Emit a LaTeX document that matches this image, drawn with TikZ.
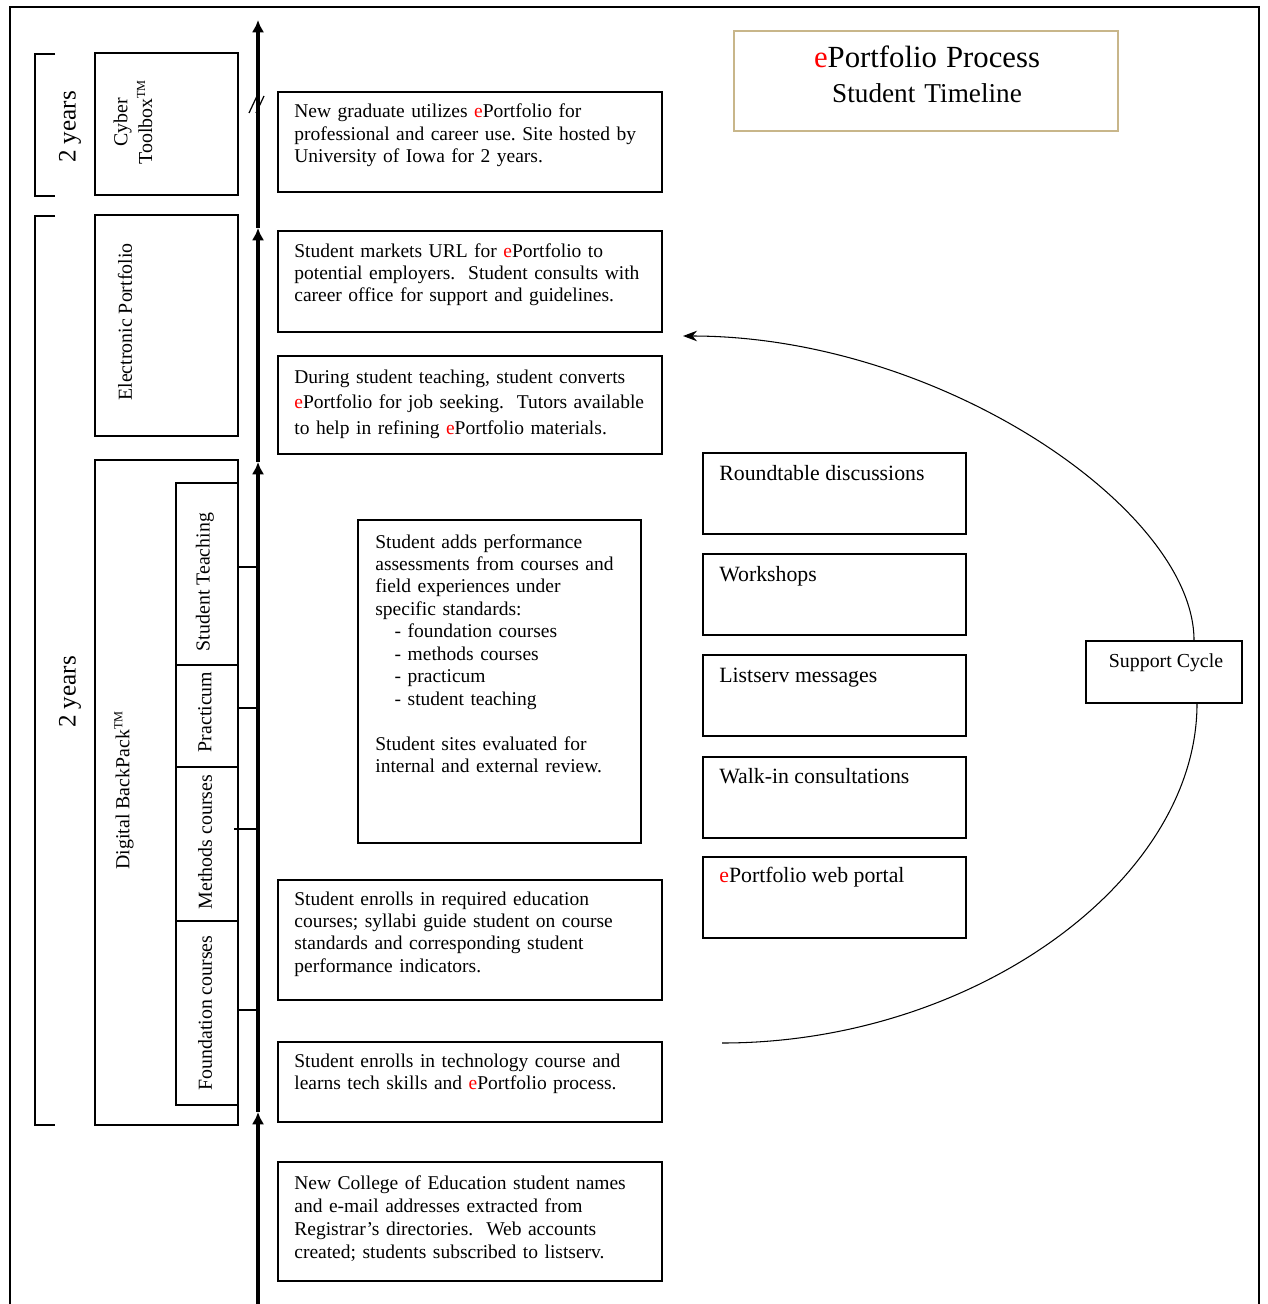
\documentclass[tikz,border=0pt]{standalone}
\usepackage{fontspec}
\setmainfont{Liberation Serif}
\usetikzlibrary{fit,arrows.meta,calc}
\definecolor{titletan}{HTML}{C8B68A}
\newcommand{\redE}{\textcolor{red}{e}}
\begin{document}
\begin{tikzpicture}[x=0.02cm,y=-0.02cm,
  pbox/.style={draw, line width=0.8pt, inner sep=0pt},
  txt/.style={anchor=base west, inner sep=0pt, text width=8cm, align=left,
    font=\fontsize{11.1}{12.8}\selectfont\frenchspacing},
  rtxt/.style={rotate=90, inner sep=0pt, align=center,
    font=\fontsize{11.3}{14}\selectfont},
  stxt/.style={anchor=base west, inner sep=0pt, font=\fontsize{12.4}{14}\selectfont},
  timeline/.style={line width=2.5pt, -{Latex[length=7pt,width=7pt]}},
  tickline/.style={line width=0.8pt},
  cycline/.style={line width=0.6pt},
  bracket/.style={line width=0.8pt}]
\useasboundingbox (0,0) rectangle (1267,1304);
% outer frame
\draw[line width=1.1pt] (10,1304) -- (10,7) -- (1259,7) -- (1259,1304);

% brackets and "2 years"
\draw[bracket] (55,54) -- (35,54) -- (35,196) -- (55,196);
\draw[bracket] (55,216) -- (35,216) -- (35,1125) -- (55,1125);
\node[rtxt, font=\fontsize{14.3}{16}\selectfont] (y1) at (70,127) {2 years};
\node[rtxt, font=\fontsize{14.3}{16}\selectfont] (y2) at (70,692) {2 years};

% left column boxes
\node[pbox, fit={(95,53) (238,195)}] (cyber) {};
\node[pbox, fit={(95,215) (238,436)}] (eport) {};
\node[pbox, fit={(95,460) (238,1125)}] (dbp) {};
\node[pbox, fit={(176,483) (238,665)}] (st) {};
\node[pbox, fit={(176,665) (238,767)}] (prac) {};
\node[pbox, fit={(176,767) (238,921)}] (meth) {};
\node[pbox, fit={(176,921) (238,1105)}] (found) {};

\node[rtxt] (cybert) at (133,122) {Cyber\\Toolbox\textsuperscript{\scriptsize TM}};
\node[rtxt] (eportt) at (125,322) {Electronic Portfolio};
\node[rtxt] (dbpt) at (124,790) {Digital BackPack\textsuperscript{\scriptsize TM}};
\node[rtxt] (stt) at (205,582) {Student Teaching};
\node[rtxt] (pract) at (205,712) {Practicum};
\node[rtxt] (metht) at (205,842) {Methods courses};
\node[rtxt] (foundt) at (205,1013) {Foundation courses};

% timeline
\coordinate (t0) at (258,1304);
\coordinate (t1) at (258,1112);
\coordinate (t2) at (258,462);
\coordinate (t3) at (258,228);
\coordinate (tb1) at (258,93);
\coordinate (tb2) at (258,115);
\coordinate (ttop) at (258,20);
\draw[timeline] (t0) -- (t1);
\draw[timeline] (t1) -- (t2);
\draw[timeline] (t2) -- (t3);
\draw[line width=2.5pt] (t3) -- (tb1);
\draw[timeline] (tb2) -- (ttop);
\draw[line width=0.7pt] (249,113) -- (257,96);
\draw[line width=0.7pt] (256,113) -- (264,96);

% ticks
\draw[tickline] (st.east |- 0,567) -- (t0 |- 0,567);
\draw[tickline] (prac.east |- 0,708) -- (t0 |- 0,708);
\draw[tickline] (234,829) -- (t0 |- 0,829);
\draw[tickline] (found.east |- 0,1010) -- (t0 |- 0,1010);

% right boxes
\node[pbox, fit={(278,92) (662,192)}] (b1) {};
\node[pbox, fit={(278,231) (662,332)}] (b2) {};
\node[pbox, fit={(278,356) (662,454)}] (b3) {};
\node[pbox, fit={(358,520) (641,843)}] (b4) {};
\node[pbox, fit={(278,880) (662,1000)}] (b5) {};
\node[pbox, fit={(278,1042) (662,1122)}] (b6) {};
\node[pbox, fit={(278,1162) (662,1281)}] (b7) {};

\node[txt] (b1t) at (294,118) {New graduate utilizes \redE{}Portfolio for\\professional and career use. Site hosted by\\University of Iowa for 2 years.};
\node[txt] (b2t) at (294,257) {Student markets URL for \redE{}Portfolio to\\potential employers.\ \ Student consults with\\career office for support and guidelines.};
\node[txt, font=\fontsize{11.1}{14.7}\selectfont\frenchspacing] (b3t) at (294,383) {During student teaching, student converts\\\redE{}Portfolio for job seeking.\ \ Tutors available\\to help in refining \redE{}Portfolio materials.};
\node[txt] (b4t) at (375,548) {Student adds performance\\assessments from courses and\\field experiences under\\specific standards:\\\hspace*{11pt}- foundation courses\\\hspace*{11pt}- methods courses\\\hspace*{11pt}- practicum\\\hspace*{11pt}- student teaching\\[12.8pt]Student sites evaluated for\\internal and external review.};
\node[txt] (b5t) at (294,905) {Student enrolls in required education\\courses; syllabi guide student on course\\standards and corresponding student\\performance indicators.};
\node[txt] (b6t) at (294,1067) {Student enrolls in technology course and\\learns tech skills and \redE{}Portfolio process.};
\node[txt, font=\fontsize{11.1}{13.2}\selectfont\frenchspacing] (b7t) at (294,1189) {New College of Education student names\\and e-mail addresses extracted from\\Registrar’s directories.\ \ Web accounts\\created; students subscribed to listserv.};

% title
\node[draw=titletan, line width=0.8pt, inner sep=0pt, fit={(734,31) (1118,131)}] (title) {};
\node[anchor=base, inner sep=0pt, text width=7cm, align=center,
  font=\fontsize{15.5}{17.6}\selectfont] (titlet) at (927,68)
  {{\fontsize{17.5}{17.6}\selectfont\redE{}Portfolio Process}\\[2pt]Student Timeline};

% support boxes
\node[pbox, fit={(703,453) (966,534)}] (s1) {};
\node[pbox, fit={(703,554) (966,635)}] (s2) {};
\node[pbox, fit={(703,655) (966,736)}] (s3) {};
\node[pbox, fit={(703,757) (966,838)}] (s4) {};
\node[pbox, fit={(703,857) (966,938)}] (s5) {};
\node[stxt] (s1t) at (719,480) {Roundtable discussions};
\node[stxt] (s2t) at (719,581) {Workshops};
\node[stxt] (s3t) at (719,682) {Listserv messages};
\node[stxt] (s4t) at (719,783) {Walk-in consultations};
\node[stxt] (s5t) at (719,882) {\redE{}Portfolio web portal};

% support cycle
\node[pbox, fit={(1086,641) (1242,703)}] (sc) {};
\node[anchor=base, inner sep=0pt, font=\fontsize{11.3}{13}\selectfont] (sct) at (1166,667) {Support Cycle};
\coordinate (cs) at (722,1043);
\coordinate (ce) at (683,336);
\draw[cycline] (cs) .. controls (975,1043) and (1197,880) .. (sc.south -| 1197,0);
\draw[cycline, -{Stealth[length=8pt,width=6pt]}] (sc.north -| 1194,0) .. controls (1194,510) and (940,336) .. (ce);
\end{tikzpicture}
\end{document}
